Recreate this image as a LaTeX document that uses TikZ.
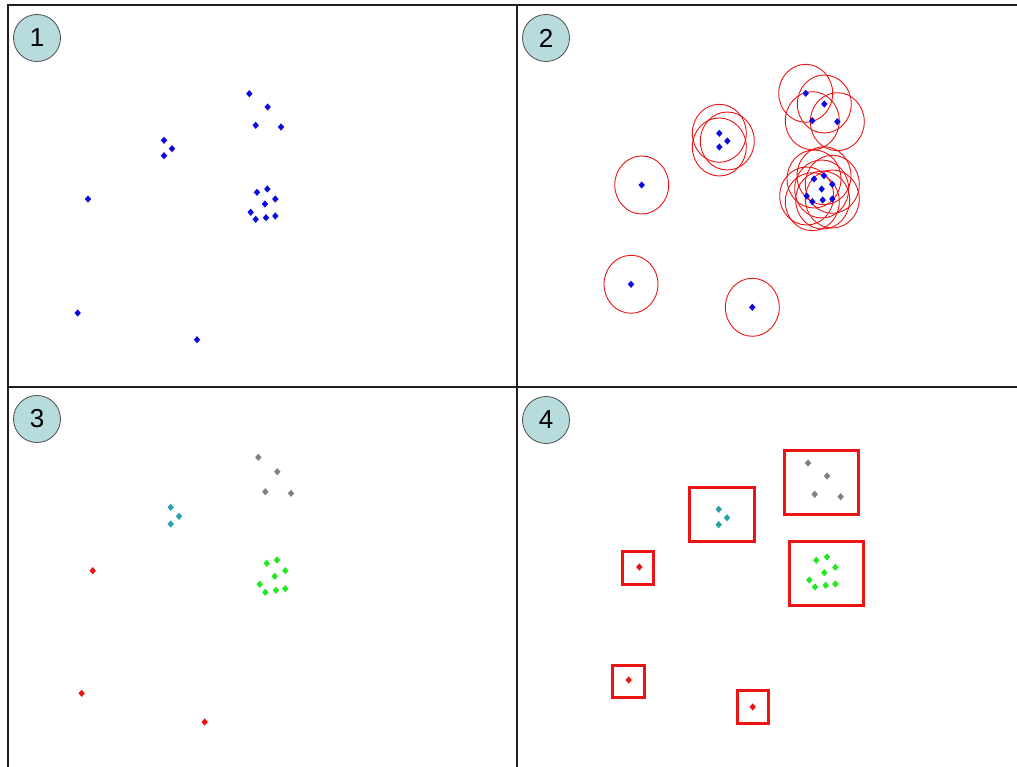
\documentclass[tikz,border=0pt]{standalone}
\usepackage{fontspec}
\setmainfont{Liberation Sans}
\definecolor{ptblue}{RGB}{10,10,225}
\definecolor{ptgray}{RGB}{128,128,128}
\definecolor{ptcyan}{RGB}{40,160,165}
\definecolor{ptgreen}{RGB}{30,235,30}
\definecolor{ptred}{RGB}{235,20,20}
\definecolor{badgefill}{RGB}{184,220,222}
\definecolor{framecol}{RGB}{30,30,30}
\tikzset{
  frameline/.style={draw=framecol,line width=2pt},
  badge/.style={circle,draw=black!70,line width=0.8pt,fill=badgefill,minimum size=47pt,inner sep=0pt,font=\fontsize{26}{26}\selectfont},
  ring/.style={draw=ptred,line width=0.9pt},
  bbox/.style={draw=ptred,line width=3pt},
}
\newcommand{\dmd}[3]{\fill[#3] (#1,#2) ++(-3.2,0) -- ++(3.2,-3.6) -- ++(3.2,3.6) -- ++(-3.2,3.6) -- cycle;}
\begin{document}
\begin{tikzpicture}[x=1pt,y=-1pt]
\useasboundingbox (0,0) rectangle (1017,767);
\fill[white] (0,0) rectangle (1017,767);
% frame
\coordinate (tl) at (8,5);
\coordinate (tr) at (1017,5);
\coordinate (bl) at (8,767);
\coordinate (vt) at (517,5);
\coordinate (vb) at (517,767);
\coordinate (hl) at (8,387);
\coordinate (hr) at (1017,387);
\draw[frameline] (bl) -- (tl) -- (tr);
\draw[frameline] (vt) -- (vb);
\draw[frameline] (hl) -- (hr);
% badges
\node[badge] (b1) at (37,38) {1};
\node[badge] (b2) at (546,38) {2};
\node[badge] (b3) at (37,419) {3};
\node[badge] (b4) at (546,420) {4};
% panel 1
\foreach \x/\y in {249.3/93.7,267.7/107,255.7/125.3,281/127,
  164/140.3,172/148.7,164/155.7,88/199,
  257/192.3,267.3/189,275.3/199,265/204,250.7/212.3,255.7/219.3,266/217.7,275.3/216,
  77.7/313,197/339.7}
  {\dmd{\x}{\y}{ptblue}}
% panel 2
\foreach \x/\y in {641.7/185,631/284.3,752.3/307.3,
  719.3/133.3,727.3/141,719.3/147,
  805.7/93.3,824.3/104,812.3/120.7,837.3/121.7,
  814/179,824/175.7,832.3/184.3,821.7/189,806.7/196,812.3/201.7,822.7/200,832.3/199}
  {\draw[ring] (\x,\y) ellipse [x radius=27pt,y radius=29pt];}
\foreach \x/\y in {641.7/185,631/284.3,752.3/307.3,
  719.3/133.3,727.3/141,719.3/147,
  805.7/93.3,824.3/104,812.3/120.7,837.3/121.7,
  814/179,824/175.7,832.3/184.3,821.7/189,806.7/196,812.3/201.7,822.7/200,832.3/199}
  {\dmd{\x}{\y}{ptblue}}
% panel 3
\foreach \x/\y in {258.3/457.3,277.3/471.7,265.3/491.7,291/493.3}
  {\dmd{\x}{\y}{ptgray}}
\foreach \x/\y in {170.7/507.3,179/516.3,170.7/524}
  {\dmd{\x}{\y}{ptcyan}}
\foreach \x/\y in {92.7/570.7,81.7/693.3,204.7/722}
  {\dmd{\x}{\y}{ptred}}
\foreach \x/\y in {266.7/563.3,277/560,285.3/570.7,274.7/576.3,259.7/584.3,265.3/592.3,276/590.3,285.3/588.7}
  {\dmd{\x}{\y}{ptgreen}}
% panel 4
\draw[bbox] (784.3,450.7) rectangle (858.7,514.7);
\draw[bbox] (689,487) rectangle (754,541.7);
\draw[bbox] (789.7,541) rectangle (863.7,605.3);
\draw[bbox] (622.3,551.7) rectangle (653.3,584.3);
\draw[bbox] (612.7,665.3) rectangle (644,697.7);
\draw[bbox] (737.3,690) rectangle (768.7,723.3);
\foreach \x/\y in {808/463,827/476,814.7/494.3,840.7/496.7}
  {\dmd{\x}{\y}{ptgray}}
\foreach \x/\y in {718.7/509.3,727/517.7,718.7/524.7}
  {\dmd{\x}{\y}{ptcyan}}
\foreach \x/\y in {639.3/567,628.7/680,752.7/707}
  {\dmd{\x}{\y}{ptred}}
\foreach \x/\y in {816.3/560.3,827/557,835.3/567.3,824.3/572.7,809.3/580,815/587,825.7/585.3,835.3/584}
  {\dmd{\x}{\y}{ptgreen}}
\end{tikzpicture}
\end{document}
